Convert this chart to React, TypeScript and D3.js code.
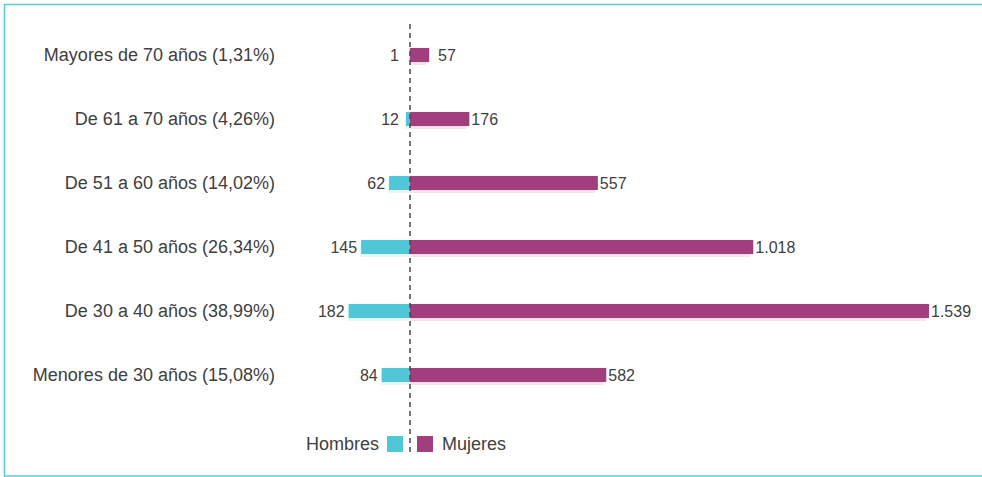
import { useEffect, useRef } from "react";
import * as d3 from "d3";

const categories = [
  "Mayores de 70 años (1,31%)",
  "De 61 a 70 años (4,26%)",
  "De 51 a 60 años (14,02%)",
  "De 41 a 50 años (26,34%)",
  "De 30 a 40 años (38,99%)",
  "Menores de 30 años (15,08%)",
];
const hombres = [1, 12, 62, 145, 182, 84];
const mujeres = [57, 176, 557, 1018, 1539, 582];
const legendLabels = ["Hombres", "Mujeres"];

const TEAL = "#4fc7d9";
const MAGENTA = "#a23e7e";
const TEXT = "#404040";
const FONT = "'Liberation Sans', Helvetica, Arial, sans-serif";

const fmt = (v: number) => d3.format(",")(v).replace(/,/g, ".");

const App = () => {
  const chartRef = useRef(null);

  useEffect(() => {
    const width = 982;
    const height = 477;
    const center = 410;

    const svg = d3
      .select(chartRef.current)
      .append("svg")
      .attr("width", width)
      .attr("height", height)
      .style("position", "absolute")
      .style("left", "0px")
      .style("top", "0px");

    // frame (left, top, bottom)
    svg
      .append("path")
      .attr("d", `M${width + 2},4.5 H4.5 V476 H${width + 2}`)
      .attr("fill", "none")
      .attr("stroke", "#5ccad9")
      .attr("stroke-width", 1.6);

    const y = d3
      .scaleBand()
      .domain(categories)
      .range([23, 407])
      .paddingInner(0.78)
      .paddingOuter(0.39);

    const xRight = d3.scaleLinear().domain([0, 1539]).range([center, 929]);
    const xLeft = d3.scaleLinear().domain([0, 1539]).range([center, center - 519]);

    const rows = svg
      .selectAll("g.row")
      .data(categories)
      .enter()
      .append("g")
      .attr("class", "row");

    rows
      .append("text")
      .attr("x", 275)
      .attr("y", (d) => y(d)! + y.bandwidth() / 2)
      .attr("dy", "0.35em")
      .attr("text-anchor", "end")
      .attr("font-family", FONT)
      .attr("font-size", 18)
      .attr("fill", TEXT)
      .text((d) => d);

    // faint shadows
    rows
      .append("rect")
      .attr("x", (_, i) => xLeft(hombres[i]) - 1)
      .attr("y", (d) => y(d)! + 3)
      .attr("width", (_, i) => center - xLeft(hombres[i]))
      .attr("height", y.bandwidth())
      .attr("fill", "#eaf7f9");
    rows
      .append("rect")
      .attr("x", center)
      .attr("y", (d) => y(d)! + 3)
      .attr("width", (_, i) => Math.max(0, xRight(mujeres[i]) - center - 3))
      .attr("height", y.bandwidth())
      .attr("fill", "#f3e3ec");

    rows
      .append("rect")
      .attr("x", (_, i) => xLeft(hombres[i]))
      .attr("y", (d) => y(d)!)
      .attr("width", (_, i) => center - xLeft(hombres[i]))
      .attr("height", y.bandwidth())
      .attr("fill", TEAL);

    rows
      .append("rect")
      .attr("x", center)
      .attr("y", (d) => y(d)!)
      .attr("width", (_, i) => xRight(mujeres[i]) - center)
      .attr("height", y.bandwidth())
      .attr("fill", MAGENTA);

    rows
      .append("text")
      .attr("x", (_, i) => Math.min(xLeft(hombres[i]) - 4, 399))
      .attr("y", (d) => y(d)! + y.bandwidth() / 2)
      .attr("dy", "0.4em")
      .attr("text-anchor", "end")
      .attr("font-family", FONT)
      .attr("font-size", 16)
      .attr("fill", TEXT)
      .text((_, i) => fmt(hombres[i]));

    rows
      .append("text")
      .attr("x", (_, i) => Math.max(xRight(mujeres[i]) + 2, 438))
      .attr("y", (d) => y(d)! + y.bandwidth() / 2)
      .attr("dy", "0.4em")
      .attr("text-anchor", "start")
      .attr("font-family", FONT)
      .attr("font-size", 16)
      .attr("fill", TEXT)
      .text((_, i) => fmt(mujeres[i]));

    // center dashed line
    svg
      .append("line")
      .attr("x1", center)
      .attr("x2", center)
      .attr("y1", 24)
      .attr("y2", 456)
      .attr("stroke", "#4a4a4a")
      .attr("stroke-width", 1.5)
      .attr("stroke-dasharray", "5,4");

    // legend
    const legend = svg.append("g");
    legend
      .append("text")
      .attr("x", 379)
      .attr("y", 444)
      .attr("dy", "0.35em")
      .attr("text-anchor", "end")
      .attr("font-family", FONT)
      .attr("font-size", 18)
      .attr("fill", TEXT)
      .text(legendLabels[0]);
    legend
      .append("rect")
      .attr("x", 387)
      .attr("y", 436)
      .attr("width", 16)
      .attr("height", 16)
      .attr("fill", TEAL);
    legend
      .append("rect")
      .attr("x", 417)
      .attr("y", 436)
      .attr("width", 16)
      .attr("height", 16)
      .attr("fill", MAGENTA);
    legend
      .append("text")
      .attr("x", 442)
      .attr("y", 444)
      .attr("dy", "0.35em")
      .attr("text-anchor", "start")
      .attr("font-family", FONT)
      .attr("font-size", 18)
      .attr("fill", TEXT)
      .text(legendLabels[1]);

    return () => {
      d3.select(chartRef.current).selectAll("*").remove();
    };
  }, []);

  return <div ref={chartRef}></div>;
};

export default App;
